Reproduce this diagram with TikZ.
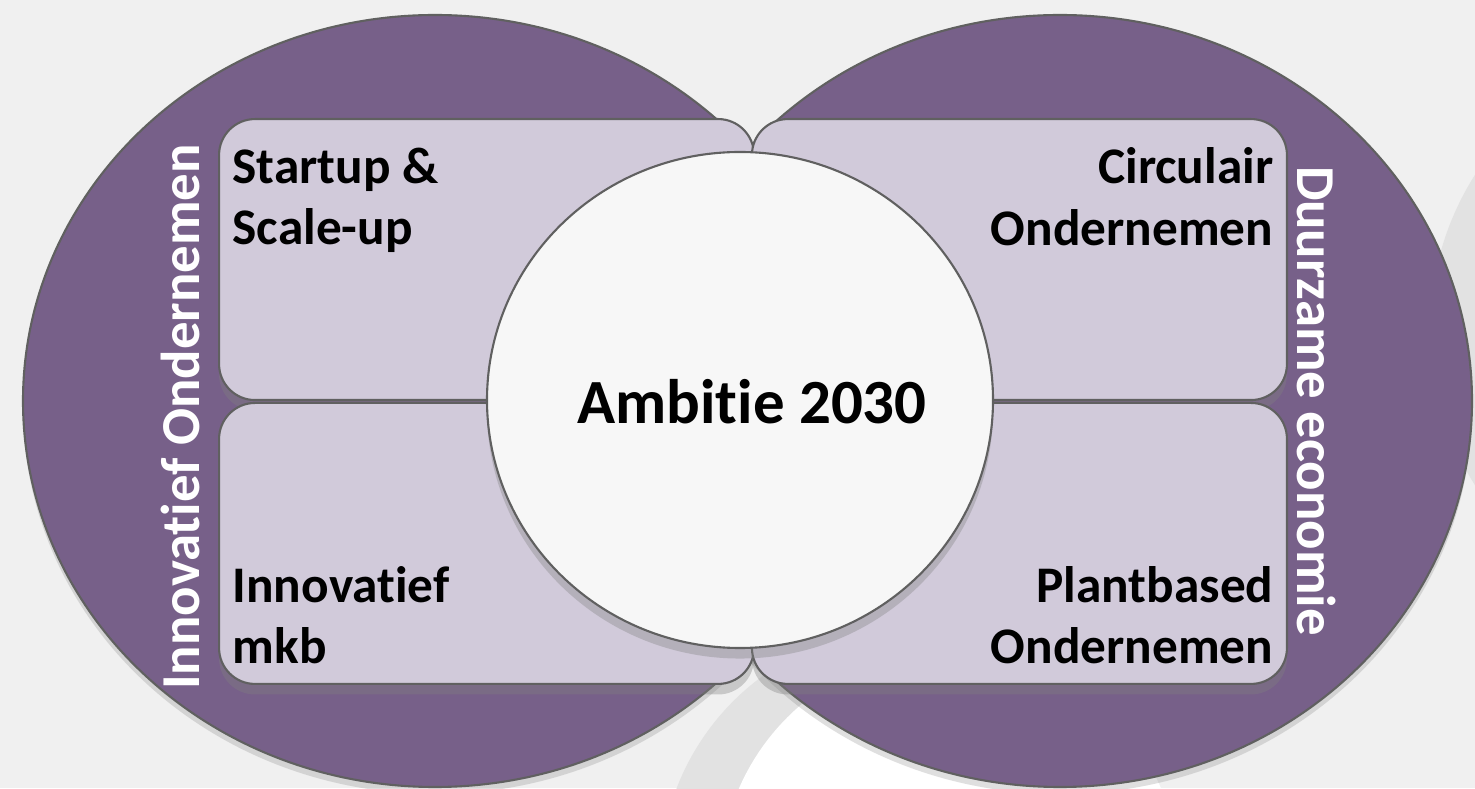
\documentclass[tikz,border=0pt]{standalone}
\usepackage{fontspec}
\setmainfont{Carlito}[Ligatures={NoCommon,NoRequired,NoContextual}]
\usetikzlibrary{shapes.geometric,shadows,positioning}
\definecolor{aubergine}{RGB}{119, 96, 137}
\definecolor{lilac}{RGB}{209, 202, 218}
\definecolor{slate}{RGB}{96, 96, 96}
\definecolor{mist}{RGB}{240, 240, 240}
\definecolor{fog}{RGB}{226, 226, 226}
\definecolor{snow}{RGB}{247, 247, 247}

\tikzset{
    pillar/.style={ellipse, draw=slate, fill=aubergine, line width=0.6pt, inner sep=0pt,
        minimum width=8.24cm, minimum height=7.72cm,
        drop shadow={shadow xshift=0pt, shadow yshift=-2pt, opacity=0.25}},
    quad/.style={rectangle, rounded corners=0.36cm, draw=slate, fill=lilac, line width=0.6pt,
        inner sep=0pt, minimum width=5.35cm, minimum height=2.81cm,
        drop shadow={shadow xshift=0pt, shadow yshift=-3pt, opacity=0.35}},
    hub/.style={ellipse, draw=slate, fill=snow, line width=0.6pt, inner sep=0pt,
        minimum width=5.06cm, minimum height=4.96cm,
        drop shadow={shadow xshift=0pt, shadow yshift=-3pt, opacity=0.35}},
    quadtxt/.style={font=\fontsize{14.6}{17.6}\selectfont\bfseries, inner sep=0pt},
    sidetxt/.style={font=\fontsize{15.6}{18}\selectfont\bfseries, text=white, inner sep=0pt}
}

\begin{document}
\begin{tikzpicture}
    % Background
    \useasboundingbox (0.00, 0.00) rectangle (14.75, 7.88);
    \clip (0.00, 0.00) rectangle (14.75, 7.88);
    \fill[mist] (0.00, 0.00) rectangle (14.75, 7.88);
    \fill[fog]   ( 9.10,-0.90) circle (2.50);
    \fill[white] ( 9.50,-0.92) circle (2.30);
    \fill[fog]   (17.20, 4.58) circle (2.90);

    % Pillars
    \node[pillar] (innov) at ( 4.35, 3.87) {};
    \node[pillar] (duurz) at (10.60, 3.87) {};

    % Quadrants
    \node[quad, anchor=north west] (startup) at ( 2.18, 6.70) {};
    \node[quad, anchor=north east] (circ)    at (12.88, 6.70) {};
    \node[quad, anchor=south west] (mkb)     at ( 2.18, 1.03) {};
    \node[quad, anchor=south east] (plant)   at (12.88, 1.03) {};

    % Center
    \node[hub] (ambitie) at (7.40, 3.88) {};
    \node[font=\fontsize{17.9}{21}\selectfont\bfseries] (ambitie-txt) at (7.52, 3.86) {Ambitie 2030};

    % Quadrant labels
    \node[quadtxt, anchor=north west, align=left]  (startup-txt) at ([xshift= 0.14cm, yshift=-0.29cm]startup.north west) {Startup \&\\Scale-up};
    \node[quadtxt, anchor=north east, align=right] (circ-txt)    at ([xshift=-0.14cm, yshift=-0.29cm]circ.north east) {Circulair\\Ondernemen};
    \node[quadtxt, anchor=south west, align=left]  (mkb-txt)     at ([xshift= 0.14cm, yshift= 0.20cm]mkb.south west) {Innovatief\\mkb};
    \node[quadtxt, anchor=south east, align=right] (plant-txt)   at ([xshift=-0.14cm, yshift= 0.20cm]plant.south east) {Plantbased\\Ondernemen};

    % Pillar labels
    \node[sidetxt, rotate=90]  (innov-txt) at ( 1.80, 3.71) {Innovatief Ondernemen};
    \node[sidetxt, rotate=-90] (duurz-txt) at (13.17, 3.87) {Duurzame economie};
\end{tikzpicture}
\end{document}
